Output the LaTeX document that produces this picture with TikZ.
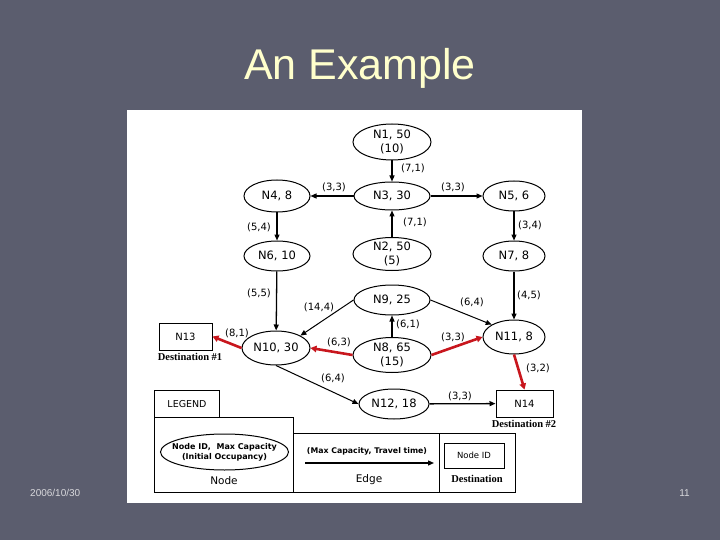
\documentclass[tikz,border=0pt]{standalone}
\usepackage{fontspec}
\setmainfont{DejaVu Sans}
\newfontfamily\libsans{Liberation Sans}
\newfontfamily\libserif{Liberation Serif}
\usetikzlibrary{shapes.geometric,arrows.meta}
\definecolor{slidebg}{HTML}{5B5D6E}
\definecolor{titlecol}{HTML}{FFFFCC}
\definecolor{footcol}{HTML}{D8D8DC}
\definecolor{edgered}{HTML}{C8161D}
\begin{document}
\begin{tikzpicture}[x=1pt,y=-1pt,
  nd/.style={draw,ellipse,line width=1pt,fill=white,inner sep=0pt},
  nt/.style={font=\fontsize{11.5}{14}\selectfont,align=center,inner sep=0pt},
  dst/.style={draw,rectangle,line width=1pt,fill=white,inner sep=0pt,font=\fontsize{10}{11}\selectfont},
  el/.style={font=\fontsize{10}{11}\selectfont,inner sep=0pt},
  dl/.style={font=\libserif\bfseries\fontsize{10.5}{12}\selectfont,inner sep=0pt},
  ar/.style={line width=1.3pt,-{Triangle[length=6pt,width=5pt]}},
  redar/.style={line width=2.6pt,draw=edgered,-{Triangle[length=6pt,width=6.5pt]}},
  lgbox/.style={draw,rectangle,line width=1pt,inner sep=0pt,anchor=north west}
]
\useasboundingbox (0,0) rectangle (720,540);
\fill[slidebg] (0,0) rectangle (720,540);
% title
\node[font=\libsans\fontsize{43}{50}\selectfont,text=titlecol,anchor=base] (title) at (360,80) {An Example};
% footer
\node[font=\libsans\fontsize{10}{12}\selectfont,text=footcol,anchor=base west,inner sep=0pt] (date) at (30,496) {2006/10/30};
\node[font=\libsans\fontsize{10}{12}\selectfont,text=footcol,anchor=base east,inner sep=0pt] (pgnum) at (690,496) {11};
% white panel
\fill[white] (127,110) rectangle (582,503);

% nodes
\node[nd,minimum width=78pt,minimum height=36pt,label={[nt]center:{N1, 50\\(10)}}] (n1) at (392,142) {};
\node[nd,minimum width=76pt,minimum height=28pt,label={[nt]center:{N3, 30}}] (n3) at (392,196) {};
\node[nd,minimum width=66pt,minimum height=32pt,label={[nt]center:{N4, 8}}] (n4) at (277,196) {};
\node[nd,minimum width=62pt,minimum height=30pt,label={[nt]center:{N5, 6}}] (n5) at (514,196) {};
\node[nd,minimum width=78pt,minimum height=33pt,label={[nt]center:{N2, 50\\(5)}}] (n2) at (392,254) {};
\node[nd,minimum width=66pt,minimum height=30pt,label={[nt]center:{N6, 10}}] (n6) at (277,256) {};
\node[nd,minimum width=62pt,minimum height=30pt,label={[nt]center:{N7, 8}}] (n7) at (514,256) {};
\node[nd,minimum width=76pt,minimum height=30pt,label={[nt]center:{N9, 25}}] (n9) at (392,300) {};
\node[nd,minimum width=68pt,minimum height=34pt,label={[nt]center:{N10, 30}}] (n10) at (276,348) {};
\node[nd,minimum width=78pt,minimum height=35pt,label={[nt]center:{N8, 65\\(15)}}] (n8) at (392,355) {};
\node[nd,minimum width=62pt,minimum height=34pt,label={[nt]center:{N11, 8}}] (n11) at (514,337) {};
\node[nd,minimum width=70pt,minimum height=30pt,label={[nt]center:{N12, 18}}] (n12) at (394,404) {};
\node[dst,minimum width=53pt,minimum height=27pt] (n13) at (185.5,336.5) {N13};
\node[dst,minimum width=57pt,minimum height=27pt] (n14) at (524.5,403.5) {N14};
\node[dl] (d1) at (190,357) {Destination \#1};
\node[dl] (d2) at (524,424) {Destination \#2};

% black edges
\draw[ar] (n1) -- (n3);
\draw[ar] (n3) -- (n4);
\draw[ar] (n3) -- (n5);
\draw[ar] (n2) -- (n3);
\draw[ar] (n4) -- (n6);
\draw[ar] (n5) -- (n7);
\draw[ar] (n6) -- (n10);
\draw[ar] (n7) -- (n11);
\draw[ar] (n8) -- (n9);
\draw[ar,line width=1pt] (n9.west) -- (n10.north east);
\draw[ar,line width=1pt] (n9.east) -- (n11.north west);
\draw[ar,line width=1pt] (n10.south) -- (n12.west);
\draw[ar] (n12) -- (n14);
% red edges
\draw[redar] (n8.west) -- (n10.east);
\draw[redar] (n8.east) -- (n11.west);
\draw[redar] (n10.west) -- (n13.east);
\draw[redar] (n11.south) -- (n14.north);

% edge labels
\node[el] (l1) at (413,168) {(7,1)};
\node[el] (l2) at (334,187) {(3,3)};
\node[el] (l3) at (453,187) {(3,3)};
\node[el] (l4) at (415,222) {(7,1)};
\node[el] (l5) at (259,227) {(5,4)};
\node[el] (l6) at (530,225) {(3,4)};
\node[el] (l7) at (259,293) {(5,5)};
\node[el] (l8) at (319,307) {(14,4)};
\node[el] (l9) at (472,302) {(6,4)};
\node[el] (l10) at (529,295) {(4,5)};
\node[el] (l11) at (408,324) {(6,1)};
\node[el] (l12) at (237,333) {(8,1)};
\node[el] (l13) at (339,342) {(6,3)};
\node[el] (l14) at (453,337) {(3,3)};
\node[el] (l15) at (538,368) {(3,2)};
\node[el] (l16) at (333,378) {(6,4)};
\node[el] (l17) at (460,396) {(3,3)};

% legend
\node[lgbox,minimum width=65pt,minimum height=27pt,font=\fontsize{9.5}{11}\selectfont] (lgtitle) at (154,390) {LEGEND};
\node[lgbox,minimum width=139pt,minimum height=75pt] (lgnode) at (154,417) {};
\node[lgbox,minimum width=146pt,minimum height=59pt] (lgedge) at (293,433) {};
\node[lgbox,minimum width=76pt,minimum height=59pt] (lgdest) at (439,433) {};
\node[nd,minimum width=128pt,minimum height=36pt,label={[font=\bfseries\fontsize{8}{10}\selectfont,align=center,inner sep=0pt]center:{Node ID,\ \ Max Capacity\\(Initial Occupancy)}}] (lgell) at (224.5,452) {};
\node[font=\fontsize{10.5}{12}\selectfont,inner sep=0pt] (lgnodet) at (224,481) {Node};
\coordinate (lea) at (305,463);
\coordinate (leb) at (434,463);
\draw[ar] (lea) -- (leb);
\node[font=\bfseries\fontsize{7.8}{9}\selectfont,inner sep=0pt] (lgedgel) at (367,451) {(Max Capacity, Travel time)};
\node[font=\fontsize{10.5}{12}\selectfont,inner sep=0pt] (lgedget) at (369,480) {Edge};
\node[dst,minimum width=60pt,minimum height=25pt,font=\fontsize{8.5}{10}\selectfont] (lgd) at (474,455.5) {Node ID};
\node[dl] (lgdestt) at (477,479) {Destination};
\end{tikzpicture}
\end{document}
